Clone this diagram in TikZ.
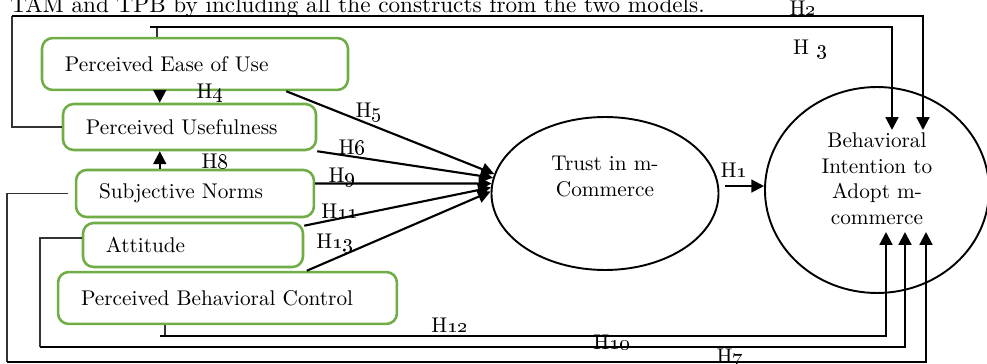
\documentclass[tikz,border=0pt]{standalone}
\usepackage{amsmath}
\usepackage{tikz}
\usetikzlibrary{arrows.meta,shapes.geometric}

\definecolor{boxgreen}{HTML}{70AD47}

\begin{document}
\begin{tikzpicture}[
  x=0.47pt, y=-0.47pt,
  construct/.style={draw=boxgreen, line width=1.2pt, rounded corners=5pt, inner xsep=10.8pt, inner ysep=0pt, align=left},
  oval/.style={ellipse, draw, line width=0.9pt, inner sep=0pt},
  flow/.style={-{Triangle[length=6pt,width=6pt]}, line width=1pt},
  feed/.style={line width=0.5pt, black!80},
  hlabel/.style={inner sep=0pt}]

\useasboundingbox (0,0) rectangle (987,364);

% Text of the page above the figure
\node[anchor=base west, inner sep=0pt, font=\fontsize{10.9pt}{13pt}\selectfont] (heading) at (10,13) {TAM and TPB by including all the constructs from the two models.};

% Constructs on the left
\node[construct, text width=122.2pt, minimum height=24.4pt] (peou) at (195,64) {Perceived Ease of Use};
\node[construct, text width=97.3pt, minimum height=21.6pt] (pu) at (189.5,127) {Perceived Usefulness};
\node[construct, text width=90.2pt, minimum height=22.1pt] (sn) at (195,193.5) {Subjective Norms};
\node[construct, text width=81.8pt, minimum height=20.7pt] (att) at (193,245) {Attitude};
\node[construct, text width=137.7pt, minimum height=24.4pt] (pbc) at (227.5,298) {Perceived Behavioral Control};

% Trust and intention
\node[oval, minimum width=106.7pt, minimum height=71.9pt] (trust) at (605,193.5)
  {\raisebox{4.7pt}[0pt][0pt]{\begin{tabular}{@{}c@{}}Trust in m-\\Commerce\end{tabular}}};
\node[oval, minimum width=105.3pt, minimum height=96.8pt] (bi) at (877,190)
  {\raisebox{1.8pt}[0pt][0pt]{\begin{tabular}{@{}c@{}}Behavioral\\Intention to\\Adopt m-\\commerce\end{tabular}}};

% Bends and ends of the long connectors
\coordinate (h2bend) at (12,16);
\coordinate (h3bend) at (157,27);
\coordinate (h12bend) at (165,336);
\coordinate (h10bend) at (40,347);
\coordinate (h7bend) at (7,362);
\coordinate (h2tip) at (923,130);
\coordinate (h3tip) at (892,130);
\coordinate (h12tip) at (886,232);
\coordinate (h10tip) at (905,232);
\coordinate (h7tip) at (926,232);

% Arrows into trust
\draw[flow] (peou.south east) ++(-63,0) -- (trust.170);
\draw[flow] (pu.south east) -- (trust.172);
\draw[flow] (sn.east) ++(0,-10) -- (trust.175);
\draw[flow] (att.north east) ++(0,4) -- (trust.177);
\draw[flow] (pbc.north west) ++(250,0) -- (trust.179);
\draw[flow] (trust.east |- bi.178) ++(6,0) -- (bi.178);

% Arrows between the constructs
\draw[flow] (peou.south west) ++(119,0) coordinate (h4top) -- (h4top |- pu.north);
\draw[flow] (sn.north west) ++(85,0) coordinate (h8foot) -- (h8foot |- pu.south);

% Long connectors into intention
\draw[feed] (pu.west) -| (h2bend);
\draw[flow] (h2bend) -| (h2tip);
\draw[feed] (h3bend |- peou.north) -- (h3bend);
\draw[flow] (h3bend) ++(-7,0) -| (h3tip);
\draw[feed] (h12bend |- pbc.south) -- (h12bend);
\draw[flow] (h12bend) ++(-5,0) -| (h12tip);
\draw[feed] (att.west) ++(0,-7) -| (h10bend);
\draw[flow] (h10bend) -| (h10tip);
\draw[feed] (sn.west) ++(-7,0) -| (h7bend);
\draw[flow] (h7bend) -| (h7tip);

% Hypothesis labels
\node[hlabel] (h1) at (734,170) {H\oldstylenums{1}};
\node[hlabel] (h2) at (803,8) {H\oldstylenums{2}};
\node[hlabel] (h3) at (810,49) {H \oldstylenums{3}};
\node[hlabel] (h4) at (210,93) {H\oldstylenums{4}};
\node[hlabel] (h5) at (369,112) {H\oldstylenums{5}};
\node[hlabel] (h6) at (352,147) {H\oldstylenums{6}};
\node[hlabel] (h7) at (730,358) {H\oldstylenums{7}};
\node[hlabel] (h8) at (215,161) {H\oldstylenums{8}};
\node[hlabel] (h9) at (342,177) {H\oldstylenums{9}};
\node[hlabel] (h10) at (612,342) {H\oldstylenums{10}};
\node[hlabel] (h11) at (340,211) {H\oldstylenums{11}};
\node[hlabel] (h12) at (450,325) {H\oldstylenums{12}};
\node[hlabel] (h13) at (335,243) {H\oldstylenums{13}};

\end{tikzpicture}
\end{document}
